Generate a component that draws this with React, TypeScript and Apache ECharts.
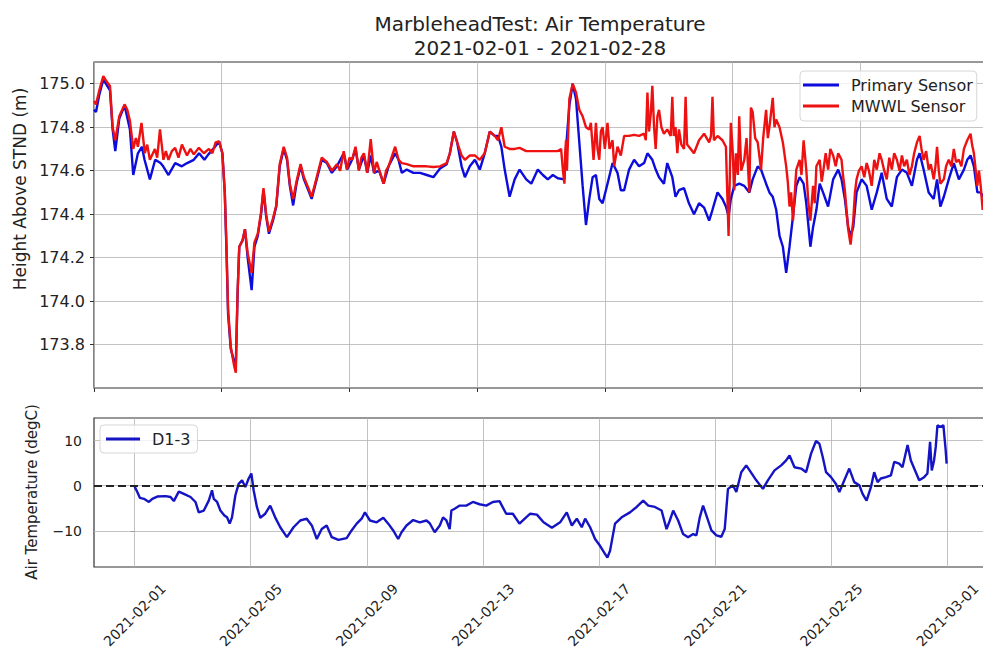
import React, { useEffect, useRef } from 'react';
import * as echarts from 'echarts';

const titleLines = ['MarbleheadTest: Air Temperature', '2021-02-01 - 2021-02-28'];
const heightAxisName = 'Height Above STND (m)';
const tempAxisName = 'Air Temperature (degC)';
const tickHours = [0, 96, 192, 288, 384, 480, 576, 672];
const tickDates = ['2021-02-01', '2021-02-05', '2021-02-09', '2021-02-13', '2021-02-17', '2021-02-21', '2021-02-25', '2021-03-01'];
const heightTicks = [173.8, 174.0, 174.2, 174.4, 174.6, 174.8, 175.0];
const tempTicks = [-10, 0, 10];

// [hours since 2021-02-01 00:00, height (m)]
const primaryReadings: [number, number][] = [
  [0, 174.88], [1.5, 174.87], [4, 174.95], [7, 175.02], [12, 174.97], [14, 174.79], [16, 174.69], [19, 174.84],
  [23, 174.9], [27, 174.79], [29.5, 174.58], [33, 174.68], [36, 174.71], [38, 174.65], [42, 174.56], [46, 174.65],
  [50, 174.635], [52, 174.62], [56, 174.58], [61, 174.635], [66, 174.62], [70, 174.635], [75, 174.65], [79, 174.68],
  [83, 174.65], [86, 174.675], [91, 174.71], [94, 174.735], [96.5, 174.68], [98.3, 174.5], [99.5, 174.25],
  [100.8, 173.94], [102.8, 173.78], [105.4, 173.72], [106.6, 173.71], [107.9, 174.03], [109.2, 174.25],
  [111.7, 174.28], [113.5, 174.33], [115.5, 174.2], [118.5, 174.05], [120.6, 174.25], [123.1, 174.3],
  [125.6, 174.4], [127.4, 174.51], [129.4, 174.39], [131.5, 174.31], [134.5, 174.37], [137, 174.435],
  [139.6, 174.62], [142.6, 174.7], [145.1, 174.65], [147.2, 174.53], [149.7, 174.44], [152.2, 174.54],
  [155.3, 174.62], [157.8, 174.56], [161.1, 174.51], [163.6, 174.47], [167.4, 174.56], [171.2, 174.65],
  [175, 174.635], [178.8, 174.59], [182.6, 174.62], [187.7, 174.68], [190.2, 174.605], [194, 174.65],
  [196.6, 174.7], [199.1, 174.605], [202.9, 174.67], [205.4, 174.59], [208, 174.67], [210.5, 174.59],
  [214.3, 174.6], [217.7, 174.54], [221.4, 174.62], [226.4, 174.68], [228.9, 174.65], [231.4, 174.59],
  [235.1, 174.605], [240.1, 174.59], [245.1, 174.59], [250.1, 174.58], [255.1, 174.57], [260.1, 174.61],
  [265.1, 174.63], [267.5, 174.68], [270.5, 174.78], [273, 174.73], [276.3, 174.62], [278.8, 174.57],
  [282.5, 174.62], [286.3, 174.65], [290, 174.605], [293.7, 174.68], [297.5, 174.78], [301.2, 174.76],
  [303.7, 174.76], [306.2, 174.71], [308.7, 174.605], [312.4, 174.48], [316.2, 174.56], [319.9, 174.605],
  [324.9, 174.56], [328.7, 174.54], [333.6, 174.605], [337.4, 174.58], [341.1, 174.56], [344.9, 174.58],
  [348.6, 174.565], [353.6, 174.56], [354.8, 174.7], [357.3, 174.9], [359.8, 175.0], [362.3, 174.93],
  [364.8, 174.73], [367.3, 174.53], [369.8, 174.35], [372.3, 174.47], [374.8, 174.57], [377.3, 174.58],
  [379.8, 174.47], [382.3, 174.45], [386, 174.54], [389.8, 174.635], [393.5, 174.59], [396, 174.51],
  [398.5, 174.51], [402.2, 174.605], [406, 174.65], [409.7, 174.62], [413.5, 174.635], [416, 174.68],
  [419.7, 174.65], [422.2, 174.605], [424.7, 174.57], [428.4, 174.54], [430.9, 174.635], [434.7, 174.57],
  [437.1, 174.48], [439.7, 174.51], [443.5, 174.52], [447.2, 174.45], [451, 174.4], [454.8, 174.45],
  [458.6, 174.43], [462.4, 174.37], [464.9, 174.42], [468.7, 174.5], [472.4, 174.47], [475, 174.435],
  [477, 174.39], [478.7, 174.47], [481.3, 174.53], [485, 174.54], [488.8, 174.53], [492.6, 174.5],
  [495.1, 174.56], [498.9, 174.62], [501.4, 174.605], [505.2, 174.54], [507.7, 174.5], [510.2, 174.48],
  [512.8, 174.42], [515.3, 174.3], [517.8, 174.25], [520.3, 174.13], [522.8, 174.25], [525.4, 174.39],
  [527.9, 174.53], [530.4, 174.57], [533.4, 174.54], [535.4, 174.45], [538.5, 174.25], [540.5, 174.34],
  [543, 174.42], [545.5, 174.54], [548, 174.5], [551.8, 174.435], [555.6, 174.56], [559.4, 174.605],
  [561.9, 174.56], [564.4, 174.47], [566.9, 174.34], [568.7, 174.3], [570.7, 174.34], [573.2, 174.5],
  [577, 174.56], [580.8, 174.53], [584.6, 174.42], [588.4, 174.5], [592.1, 174.59], [595.9, 174.47],
  [599.7, 174.435], [603.5, 174.57], [607.3, 174.605], [611, 174.59], [614.8, 174.53], [618.6, 174.65],
  [620.6, 174.68], [623.6, 174.605], [627.4, 174.5], [631.2, 174.47], [633.7, 174.56], [636.2, 174.435],
  [638.8, 174.48], [642.5, 174.56], [646.3, 174.635], [650.1, 174.56], [653.9, 174.605], [656.4, 174.65],
  [658.9, 174.67], [661.4, 174.62], [664, 174.5], [666.5, 174.5], [668, 174.48], [671, 174.52],
];

const mwwlReadings: [number, number][] = [
  [0, 174.92], [1.5, 174.905], [4, 174.97], [7, 175.035], [9.5, 175.01], [12, 174.99], [14, 174.8], [16, 174.74],
  [19, 174.85], [23, 174.905], [25, 174.88], [27, 174.83], [29.5, 174.7], [31.5, 174.75], [33, 174.71],
  [35.7, 174.82], [38.2, 174.68], [40, 174.72], [42, 174.65], [45.8, 174.7], [47.5, 174.66], [49.6, 174.79],
  [52.2, 174.65], [54, 174.69], [56, 174.65], [58.5, 174.69], [61, 174.705], [63.5, 174.66], [66.1, 174.72],
  [69.9, 174.67], [72.5, 174.7], [75, 174.675], [78.8, 174.705], [82.6, 174.68], [86.4, 174.7], [89, 174.68],
  [91.4, 174.73], [94, 174.735], [96.5, 174.68], [98.3, 174.5], [99.5, 174.27], [100.8, 173.96], [102.8, 173.79],
  [105.4, 173.7], [106.6, 173.67], [107.9, 174.035], [109.2, 174.25], [111.7, 174.28], [113.5, 174.33],
  [115.5, 174.22], [118.5, 174.13], [120.6, 174.27], [123.1, 174.31], [125.6, 174.41], [127.4, 174.52],
  [129.4, 174.4], [131.5, 174.32], [134.5, 174.38], [137, 174.44], [139.6, 174.63], [142.6, 174.71],
  [145.1, 174.66], [147.2, 174.54], [149.7, 174.47], [152.2, 174.55], [155.3, 174.63], [157.8, 174.57],
  [161.1, 174.52], [163.6, 174.48], [167.4, 174.57], [171.2, 174.66], [175, 174.64], [178.8, 174.6],
  [182.6, 174.63], [185, 174.6], [187.7, 174.69], [190.2, 174.605], [192, 174.66], [194, 174.65],
  [196.6, 174.71], [199.1, 174.6], [201, 174.66], [202.9, 174.68], [205.4, 174.59], [208, 174.745],
  [210.5, 174.59], [212.5, 174.64], [214.3, 174.605], [217.7, 174.54], [219.5, 174.6], [221.4, 174.62],
  [226.4, 174.71], [228.9, 174.65], [231.4, 174.635], [235.1, 174.63], [240.1, 174.62], [245.1, 174.62],
  [250.1, 174.62], [255.1, 174.617], [260.1, 174.62], [265.1, 174.635], [267.5, 174.68], [270.5, 174.78],
  [273, 174.73], [276.3, 174.67], [278.8, 174.65], [282.5, 174.67], [286.3, 174.67], [290, 174.65],
  [293.7, 174.68], [297.5, 174.78], [301.2, 174.76], [303.7, 174.74], [306.2, 174.8], [308.7, 174.71],
  [312.4, 174.7], [316.2, 174.7], [319.9, 174.705], [324.9, 174.69], [328.7, 174.69], [333.6, 174.69],
  [337.4, 174.69], [341.1, 174.69], [344.9, 174.69], [348.6, 174.69], [351.1, 174.7], [352.5, 174.6],
  [353.6, 174.54], [354.2, 174.68], [354.8, 174.74], [355.5, 174.6], [357.3, 174.93], [359.8, 175.0],
  [362.3, 174.96], [364.8, 174.88], [367.3, 174.85], [369.8, 174.8], [372.3, 174.79], [373.5, 174.82],
  [374.8, 174.71], [375.5, 174.65], [377.3, 174.82], [378.5, 174.7], [379.8, 174.65], [381, 174.78],
  [382.3, 174.8], [384, 174.7], [386, 174.82], [387.5, 174.7], [389.8, 174.74], [391, 174.62], [393.5, 174.71],
  [396, 174.67], [398.5, 174.76], [402.2, 174.76], [406, 174.765], [409.7, 174.76], [413.5, 174.77],
  [414.8, 174.74], [416, 174.96], [417.2, 174.78], [418.5, 174.86], [419.7, 174.99], [421, 174.8],
  [422.2, 174.7], [423.5, 174.85], [424.7, 174.88], [426.5, 174.8], [428.4, 174.77], [430.9, 174.79],
  [433.5, 174.76], [434.7, 174.94], [435.8, 174.76], [437.1, 174.8], [438.5, 174.68], [439.7, 174.79],
  [441.5, 174.72], [443.5, 174.7], [444.7, 174.94], [445.8, 174.72], [447.2, 174.71], [451, 174.68],
  [454.8, 174.74], [458.6, 174.77], [462.4, 174.73], [463.8, 174.76], [464.9, 174.94], [466, 174.74],
  [468.7, 174.76], [472.4, 174.74], [475, 174.71], [476, 174.5], [477, 174.3], [478, 174.6], [478.7, 174.82],
  [480, 174.7], [481.3, 174.51], [482.5, 174.68], [484, 174.58], [485, 174.85], [486.5, 174.6], [488.8, 174.65],
  [490.5, 174.75], [492.6, 174.5], [493.8, 174.89], [495.1, 174.87], [497, 174.75], [498.9, 174.73],
  [501.4, 174.605], [503, 174.75], [505.2, 174.88], [506.5, 174.75], [507.7, 174.8], [510.2, 174.935],
  [511.5, 174.8], [512.8, 174.835], [515.3, 174.8], [517.8, 174.73], [520.3, 174.62], [521.5, 174.55],
  [522.8, 174.435], [524, 174.5], [525.4, 174.37], [527.9, 174.605], [530.4, 174.65], [531.8, 174.58],
  [533.4, 174.74], [535.4, 174.605], [537, 174.45], [538.5, 174.37], [540.5, 174.53], [541.8, 174.45],
  [543, 174.62], [545.5, 174.65], [547, 174.55], [548, 174.59], [550, 174.68], [551.8, 174.605],
  [553.5, 174.7], [555.6, 174.67], [557.5, 174.62], [559.4, 174.68], [561.9, 174.65], [563, 174.58],
  [564.4, 174.51], [566.9, 174.33], [568.7, 174.26], [570.7, 174.37], [572, 174.5], [573.2, 174.56],
  [575, 174.6], [577, 174.62], [579, 174.57], [580.8, 174.635], [582.5, 174.6], [584.6, 174.53],
  [586.5, 174.65], [588.4, 174.605], [590.5, 174.68], [592.1, 174.65], [594, 174.6], [595.9, 174.56],
  [597.8, 174.66], [599.7, 174.605], [601.5, 174.68], [603.5, 174.65], [605.5, 174.6], [607.3, 174.67],
  [609, 174.62], [611, 174.65], [613, 174.58], [614.8, 174.62], [616.5, 174.68], [618.6, 174.73],
  [620.6, 174.76], [622, 174.7], [623.6, 174.65], [625.5, 174.69], [627.4, 174.605], [629, 174.63],
  [631.2, 174.56], [632.5, 174.62], [633.7, 174.71], [635, 174.6], [636.2, 174.54], [638.8, 174.56],
  [640.5, 174.62], [642.5, 174.65], [644.5, 174.62], [646.3, 174.7], [648, 174.64], [650.1, 174.65],
  [652, 174.62], [653.9, 174.7], [656.4, 174.74], [658.9, 174.77], [660, 174.72], [661.4, 174.68],
  [662.8, 174.6], [664, 174.53], [665.2, 174.6], [666.5, 174.53], [668, 174.42], [669.5, 174.48], [671, 174.5],
];

// [hours since 2021-02-01 00:00, air temperature (degC)]
const airTempReadings: [number, number][] = [
  [0, -0.15], [2.2, -1.4], [4.4, -2.7], [7.7, -2.9], [11.8, -3.6], [14.6, -2.9], [18.7, -2.4], [25.6, -2.3],
  [29.7, -2.5], [32.4, -3.4], [36.5, -1.3], [40.7, -1.8], [46.2, -2.5], [50.3, -3.6], [53, -5.9], [57.2, -5.5],
  [61.3, -3.3], [64, -1.0], [65.4, -2.9], [68.2, -3.6], [70.9, -5.5], [74.2, -6.6], [76.4, -7.0], [78.6, -8.4],
  [80.5, -7.0], [83.3, -2.1], [86, 0.4], [88.8, 1.2], [91.5, -0.3], [94.3, 1.6], [96.5, 2.7], [98.4, -1.0],
  [101.1, -4.7], [103.9, -7.1], [108, -6.2], [112.1, -4.4], [116.2, -7.0], [120.4, -9.2], [125.9, -11.4],
  [131.4, -9.2], [136.9, -7.7], [142.3, -7.3], [146.5, -8.8], [150.6, -11.8], [154.7, -9.6], [158.8, -8.8],
  [163, -11.4], [168.5, -12.0], [175.3, -11.6], [179.4, -9.9], [183.6, -8.4], [187.7, -7.3], [190.4, -5.9],
  [194.6, -7.7], [200.1, -8.1], [205.6, -7.1], [209.7, -8.4], [213.8, -9.9], [217.9, -11.8], [220.7, -10.3],
  [224.8, -8.8], [230.3, -7.6], [235.8, -8.1], [241.3, -7.7], [244, -8.3], [248.1, -10.3], [252.3, -8.8],
  [255, -7.0], [257.8, -7.7], [260.5, -9.6], [261.9, -5.5], [264.6, -5.1], [268.8, -4.4], [274.2, -4.4],
  [279.7, -3.6], [285.2, -4.1], [290.7, -4.4], [296.2, -3.6], [301.7, -3.4], [307.2, -6.2], [312.7, -6.2],
  [318.2, -8.4], [323.7, -7.0], [327.1, -6.2], [332.6, -6.4], [338.1, -8.1], [345, -9.3], [351.8, -8.1],
  [357.3, -5.9], [361.5, -8.8], [365.6, -7.3], [369.7, -9.2], [372.5, -7.3], [376.6, -9.2], [380.7, -11.8],
  [384.8, -13.3], [388.9, -15.1], [390.9, -15.9], [393.1, -14.4], [397.2, -8.4], [402.7, -7.0], [409.6, -5.9],
  [415.1, -4.7], [420.5, -3.3], [424.7, -4.4], [430.2, -4.7], [435.7, -5.5], [439.8, -9.6], [442.5, -7.7],
  [445.3, -5.5], [449.4, -7.7], [453.5, -10.7], [457.6, -11.4], [461.8, -10.7], [464.5, -11.0], [467.3, -7.0],
  [470, -4.4], [472.8, -6.6], [476.9, -9.9], [481, -11.0], [485.1, -11.3], [487.9, -9.6], [490.6, -0.7],
  [494.7, 0.1], [497.5, -1.4], [501.6, 3.0], [505.7, 4.5], [508.5, 3.4], [514, 1.2], [519.5, -0.7],
  [523.6, 1.2], [529.1, 3.4], [534.6, 4.5], [538.7, 5.6], [541.5, 6.7], [545.6, 4.1], [551.1, 3.8],
  [555.2, 3.0], [559.3, 7.1], [563.4, 9.9], [566.2, 9.3], [568.9, 6.4], [571.7, 3.0], [575.8, 1.9],
  [579.9, 0.4], [582.7, -1.4], [586.8, 1.2], [590.9, 3.8], [595, 0.8], [599.2, 0.1], [601.9, -1.8],
  [605.2, -3.3], [608.8, -0.3], [611.5, 3.0], [614.3, 0.8], [617, 1.6], [621.2, 1.9], [625.3, 2.3],
  [628.1, 5.3], [632.2, 4.9], [634.9, 4.1], [639.1, 9.0], [641.8, 5.6], [645.9, 3.0], [648.7, 1.2],
  [652.8, 1.9], [655.5, 2.7], [657.7, 9.7], [659.1, 3.4], [661, 5.6], [662.4, 8.6], [663.8, 13.4],
  [666.5, 13.0], [668.7, 13.4], [670.6, 7.9], [671.4, 4.9],
];

const BLUE = '#0c0cdc';
const RED = '#ee1111';
const TEMP_BLUE = '#1414c4';
const FONT = '"DejaVu Sans", sans-serif';
const GRID_LINE = { color: '#b4b4b4', width: 0.8, type: 'solid' };
const TICK_LINE = { color: '#333', width: 1 };

export default function App() {
  const ref = useRef<HTMLDivElement>(null);

  useEffect(() => {
    document.body.style.margin = '0';
    const chart = echarts.init(ref.current as HTMLDivElement, null, { renderer: 'svg' });
    const legendBase = {
      orient: 'vertical',
      icon: 'rect',
      itemHeight: 3,
      itemGap: 5,
      backgroundColor: 'rgba(255,255,255,0.8)',
      borderColor: '#d6d6d6',
      borderWidth: 1,
      borderRadius: 4,
      selectedMode: false,
      textStyle: { fontFamily: FONT, fontSize: 16, color: '#222', padding: [0, 0, 0, 7] },
    };
    chart.setOption({
      animation: false,
      backgroundColor: '#fff',
      textStyle: { fontFamily: FONT },
      grid: [
        { left: 94, top: 62, width: 894, height: 326, show: true, borderColor: '#333', borderWidth: 1.2 },
        { left: 94, top: 418, width: 894, height: 149, show: true, borderColor: '#333', borderWidth: 1.2 },
      ],
      xAxis: [
        {
          type: 'value', gridIndex: 0, min: 0, max: 672, interval: 96,
          axisLine: { show: false },
          axisTick: { show: true, length: 4, lineStyle: TICK_LINE },
          axisLabel: { show: false },
          splitLine: { show: true, lineStyle: GRID_LINE },
        },
        {
          type: 'value', gridIndex: 1, min: -33.6, max: 705.6,
          axisLine: { show: false },
          axisTick: { show: true, length: 4, customValues: tickHours, lineStyle: TICK_LINE },
          axisLabel: {
            customValues: tickHours, rotate: 45, align: 'center', verticalAlign: 'middle', margin: 48,
            fontFamily: FONT, fontSize: 14, color: '#222',
            formatter: (v: number) => {
              const i = tickHours.indexOf(Math.round(v));
              return i >= 0 ? tickDates[i] : '';
            },
          },
          splitLine: { show: false },
        },
      ],
      yAxis: [
        {
          type: 'value', gridIndex: 0, min: 173.6, max: 175.1, interval: 0.2,
          axisLine: { show: false },
          axisTick: { show: true, length: 4, customValues: heightTicks, lineStyle: TICK_LINE },
          axisLabel: {
            customValues: heightTicks, margin: 9, fontFamily: FONT, fontSize: 16, color: '#222',
            formatter: (v: number) => v.toFixed(1),
          },
          splitLine: { show: true, lineStyle: GRID_LINE },
        },
        {
          type: 'value', gridIndex: 1, min: -18, max: 15, splitNumber: 3,
          axisLine: { show: false },
          axisTick: { show: true, length: 4, customValues: tempTicks, lineStyle: TICK_LINE },
          axisLabel: {
            customValues: tempTicks, margin: 12, fontFamily: FONT, fontSize: 14, color: '#222',
            formatter: (v: number) => (v < 0 ? '\u2212' + Math.abs(v) : String(v)),
          },
          splitLine: { show: false },
        },
      ],
      legend: [
        {
          ...legendBase,
          data: ['Primary Sensor', 'MWWL Sensor'],
          left: 800, top: 71, itemWidth: 36, padding: [6, 4, 7, 3],
        },
        {
          ...legendBase,
          data: ['D1-3'],
          left: 100, top: 425, itemWidth: 34, padding: [6, 7, 6, 6],
        },
      ],
      series: [
        {
          name: 'bottom-grid', type: 'line', xAxisIndex: 1, yAxisIndex: 1, data: [], z: 1, silent: true,
          markLine: {
            silent: true, symbol: 'none', z: 1, label: { show: false },
            lineStyle: GRID_LINE,
            data: [
              ...tickHours.map((h) => ({ xAxis: h })),
              ...tempTicks.map((t) => ({ yAxis: t })),
            ],
          },
        },
        {
          name: 'Primary Sensor', type: 'line', xAxisIndex: 0, yAxisIndex: 0, data: primaryReadings,
          showSymbol: false, symbol: 'none', z: 2,
          lineStyle: { color: BLUE, width: 2.4 }, itemStyle: { color: BLUE },
        },
        {
          name: 'MWWL Sensor', type: 'line', xAxisIndex: 0, yAxisIndex: 0, data: mwwlReadings,
          showSymbol: false, symbol: 'none', z: 3,
          lineStyle: { color: RED, width: 2.4 }, itemStyle: { color: RED },
        },
        {
          name: 'D1-3', type: 'line', xAxisIndex: 1, yAxisIndex: 1, data: airTempReadings,
          showSymbol: false, symbol: 'none', z: 3,
          lineStyle: { color: TEMP_BLUE, width: 2.4 }, itemStyle: { color: TEMP_BLUE },
          markLine: {
            silent: true, symbol: 'none', label: { show: false },
            lineStyle: { color: '#222', type: [8, 4], width: 2 },
            data: [{ yAxis: 0 }],
          },
        },
      ],
      graphic: [
        {
          type: 'text', x: 540, y: 24,
          style: { text: titleLines[0], font: '20px ' + FONT, fill: '#222', align: 'center', verticalAlign: 'middle', textAlign: 'center', textVerticalAlign: 'middle' },
        },
        {
          type: 'text', x: 540, y: 48,
          style: { text: titleLines[1], font: '20px ' + FONT, fill: '#222', align: 'center', verticalAlign: 'middle', textAlign: 'center', textVerticalAlign: 'middle' },
        },
        {
          type: 'text', x: 20, y: 189, rotation: Math.PI / 2,
          style: { text: heightAxisName, font: '17px ' + FONT, fill: '#222', align: 'center', verticalAlign: 'middle', textAlign: 'center', textVerticalAlign: 'middle' },
        },
        {
          type: 'text', x: 32, y: 492, rotation: Math.PI / 2,
          style: { text: tempAxisName, font: '15px ' + FONT, fill: '#222', align: 'center', verticalAlign: 'middle', textAlign: 'center', textVerticalAlign: 'middle' },
        },
      ],
    });
    return () => chart.dispose();
  }, []);

  return (
    <div style={{ position: 'fixed', left: 0, top: 0, width: 983, height: 652, overflow: 'hidden', background: '#fff' }}>
      <div ref={ref} style={{ width: 1000, height: 652 }} />
    </div>
  );
}
